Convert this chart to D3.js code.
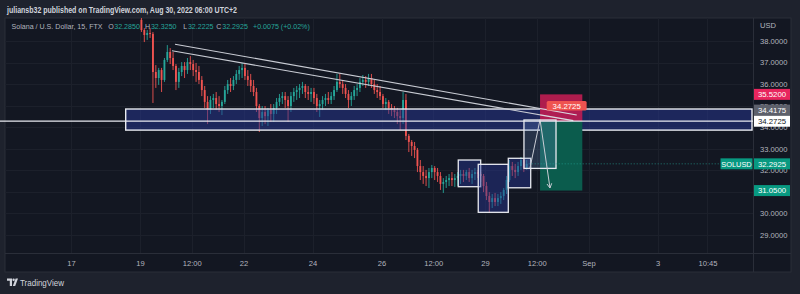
<!DOCTYPE html>
<html><head><meta charset="utf-8">
<script src="https://cdn.jsdelivr.net/npm/d3@7"></script>
<style>
html,body{margin:0;padding:0;background:#1e222d;}
svg{display:block;}
text{font-family:"Liberation Sans",Arial,sans-serif;}
</style></head><body><svg id="c" width="800" height="294"></svg>
<script>
// ---------- DATA ----------
const startTime = Date.UTC(2022, 7, 19, 0, 0); // first 2-hour candle
const candleHours = 2;
const opens = [
38.98,38.51,38.28,38.37,38.33,36.56,36.28,36.65,36.19,37.12,
37.49,37.21,36.84,36.10,36.56,36.84,36.65,37.02,36.93,36.65,
36.56,36.19,35.72,35.17,34.79,35.26,35.35,35.07,34.98,35.17,
35.72,36.00,35.91,36.19,36.47,36.65,36.75,36.37,36.19,35.91,
35.63,34.98,34.42,34.70,34.51,34.79,34.61,34.89,35.17,35.35,
35.44,35.26,34.98,35.44,35.63,35.72,35.82,35.91,35.63,35.54,
35.63,35.35,34.98,35.07,35.26,35.35,35.26,35.44,35.72,36.10,
36.00,35.82,35.54,35.26,35.44,35.72,35.82,36.10,36.19,36.10,
36.28,36.00,35.72,35.63,35.44,35.07,35.17,34.89,34.79,34.70,
34.51,34.42,35.26,33.59,33.31,33.12,32.94,32.19,31.91,31.73,
31.63,31.91,32.10,31.91,31.73,31.36,31.45,31.54,31.63,31.54,
31.63,31.73,31.82,31.73,31.91,31.63,31.82,31.91,31.82,31.73,
31.26,30.80,30.52,30.70,30.52,30.70,30.80,31.08,31.54,32.19,
32.01,31.91,32.19,32.47,32.10];
const highs = [
39.12,38.60,38.51,38.60,38.42,36.88,36.75,36.75,37.21,37.81,
37.67,37.49,36.93,36.75,37.02,37.02,37.21,37.30,37.12,36.98,
36.84,36.37,35.91,35.44,35.44,35.54,35.63,35.44,35.26,35.91,
36.19,36.28,36.37,36.65,36.84,36.98,36.93,36.65,36.47,36.19,
35.82,35.07,34.98,34.98,34.89,35.07,35.07,35.35,35.54,35.63,
35.63,35.44,35.63,35.82,35.91,36.00,36.10,36.00,35.91,35.82,
35.82,35.54,35.26,35.44,35.54,35.63,35.63,35.91,36.47,36.47,
36.19,36.00,35.72,35.63,35.91,36.00,36.28,36.42,36.37,36.47,
36.47,36.19,36.00,35.91,35.54,35.35,35.26,35.07,34.98,34.89,
34.79,35.63,35.54,33.68,33.40,33.31,33.03,32.47,32.19,32.01,
32.10,32.24,32.19,32.10,31.91,31.63,31.73,31.82,31.91,31.82,
31.91,32.01,32.01,32.01,32.10,32.01,32.10,32.01,31.91,31.82,
31.45,30.98,30.89,30.94,30.89,30.98,31.17,31.73,32.47,32.38,
32.29,32.38,32.61,32.56,32.47];
const lows = [
38.42,37.95,38.05,38.14,35.12,35.82,35.96,35.63,36.10,37.02,
36.93,36.65,35.72,35.82,36.37,36.28,36.47,36.65,36.37,36.10,
36.00,35.44,34.89,34.14,34.61,34.89,34.79,34.70,34.56,35.07,
35.54,35.63,35.72,36.00,36.19,36.28,36.19,35.91,35.63,35.44,
34.70,33.77,34.05,34.14,34.05,34.24,34.24,34.61,34.98,35.07,
34.89,34.24,34.70,35.17,35.26,35.35,35.54,35.35,35.26,35.17,
35.07,34.70,34.47,34.79,34.98,35.07,35.07,35.26,35.63,35.82,
35.54,35.35,34.89,34.98,35.26,35.44,35.63,35.91,35.82,35.91,
35.82,35.54,35.35,35.26,34.89,34.79,34.61,34.51,34.42,34.14,
33.86,34.14,33.40,32.84,32.66,32.56,31.91,31.54,31.36,31.26,
31.17,31.63,31.54,31.45,31.08,30.94,31.17,31.26,31.26,31.22,
31.26,31.36,31.45,31.54,31.45,31.36,31.54,31.63,31.45,30.98,
30.61,30.01,30.24,30.33,30.33,30.43,30.61,30.89,31.45,31.73,
31.63,31.73,32.01,31.91,32.01];
const closes = [
38.51,38.28,38.37,38.33,36.56,36.28,36.65,36.19,37.12,37.49,
37.21,36.84,36.10,36.56,36.84,36.65,37.02,36.93,36.65,36.56,
36.19,35.72,35.17,34.79,35.26,35.35,35.07,34.98,35.17,35.72,
36.00,35.91,36.19,36.47,36.65,36.75,36.37,36.19,35.91,35.63,
34.98,34.42,34.70,34.51,34.79,34.61,34.89,35.17,35.35,35.44,
35.26,34.98,35.44,35.63,35.72,35.82,35.91,35.63,35.54,35.63,
35.35,34.98,35.07,35.26,35.35,35.26,35.44,35.72,36.10,36.00,
35.82,35.54,35.26,35.44,35.72,35.82,36.10,36.19,36.10,36.28,
36.00,35.72,35.63,35.44,35.07,35.17,34.89,34.79,34.70,34.51,
34.42,35.26,33.59,33.31,33.12,32.94,32.19,31.91,31.73,31.63,
31.91,32.10,31.91,31.73,31.36,31.45,31.54,31.63,31.54,31.63,
31.73,31.82,31.73,31.91,31.63,31.82,31.91,31.82,31.73,31.26,
30.80,30.52,30.70,30.52,30.70,30.80,31.08,31.54,32.19,32.01,
31.91,32.19,32.47,32.10,32.2925];

const priceTicks = [29,30,31,32,33,34,35,36,37,38];
const timeTickDates = [
  Date.UTC(2022,7,17), Date.UTC(2022,7,19), Date.UTC(2022,7,20,12), Date.UTC(2022,7,22),
  Date.UTC(2022,7,24), Date.UTC(2022,7,26), Date.UTC(2022,7,27,12), Date.UTC(2022,7,29),
  Date.UTC(2022,7,30,12), Date.UTC(2022,8,1), Date.UTC(2022,8,3), Date.UTC(2022,8,4,10,45)];
const timeTickLabels = ["17","19","12:00","22","24","26","12:00","29","12:00","Sep","3","10:45"];

// drawings: [hours after startTime, price]
const trendLines = [
  [[24.35, 37.85], [303.8, 34.56]],
  [[22.26, 37.55], [301.4, 34.30]]
];
const zoneMain = {h0: -9.95, p0: 34.84, p1: 33.86};
const levelLine = 34.2725;
const boxes = [
  {h0: 221.4, h1: 237.0, p0: 32.47, p1: 31.23},
  {h0: 235.3, h1: 256.2, p0: 32.27, p1: 30.04},
  {h0: 256.2, h1: 271.8, p0: 32.55, p1: 31.18}
];
const boxProjection = {h0: 267.1, h1: 289.4, p0: 34.33, p1: 32.08};
const shortPos = {h0: 278.3, h1: 307.7, entry: 34.2725, stop: 35.52, target: 31.05};
const arrowPath = [[271.3, 32.10], [278.3, 34.35], [285.2, 31.17]];

const axisLabels = [
  {price: 35.52, text: "35.5200", bg: "#e8265e", fg: "#ffffff"},
  {price: 34.4175, text: "34.4175", bg: "#5d606b", fg: "#ffffff", shift: -8},
  {price: 34.2725, text: "34.2725", bg: "#ffffff", fg: "#131722"},
  {price: 32.2925, text: "32.2925", bg: "#089981", fg: "#ffffff"},
  {price: 31.05, text: "31.0500", bg: "#089981", fg: "#ffffff"}
];
const headerText = "juliansb32 published on TradingView.com, Aug 30, 2022 06:00 UTC+2";
const symbolText = "Solana / U.S. Dollar, 15, FTX";
const legendKeys = ["O","H","L","C"];
const legendValues = ["32.2850","32.3250","32.2225","32.2925"];
const legendChange = "+0.0075 (+0.02%)";

// ---------- LAYOUT ----------
const P = {left: 5, right: 753, top: 18, bottom: 253, axisRight: 791, paneBottom: 272};
const svg = d3.select("#c");
const H = h => new Date(startTime + h * 3600e3);

const x = d3.scaleUtc().domain([new Date(Date.UTC(2022,7,19)), new Date(Date.UTC(2022,8,3))]).range([140, 657.5]);
const y = d3.scaleLinear().domain([29, 38]).range([234.7, 41]);

svg.append("rect").attr("width", 800).attr("height", 294).attr("fill", "#1e222d");
svg.append("rect").attr("x", P.left).attr("y", P.top).attr("width", P.axisRight - P.left)
  .attr("height", P.paneBottom - P.top).attr("fill", "#131722").attr("stroke", "#2a2e39");
svg.append("line").attr("x1", P.right + 0.5).attr("x2", P.right + 0.5).attr("y1", P.top).attr("y2", P.paneBottom).attr("stroke", "#2a2e39");
svg.append("line").attr("x1", P.left).attr("x2", P.axisRight).attr("y1", P.bottom + 0.5).attr("y2", P.bottom + 0.5).attr("stroke", "#2a2e39");

svg.append("defs").append("clipPath").attr("id", "plot").append("rect")
  .attr("x", P.left).attr("y", P.top).attr("width", P.right - P.left).attr("height", P.bottom - P.top);
const g = svg.append("g").attr("clip-path", "url(#plot)");

// grid
g.selectAll(".hg").data(priceTicks).join("line")
  .attr("x1", P.left).attr("x2", P.right).attr("y1", d => Math.round(y(d)) + 0.5).attr("y2", d => Math.round(y(d)) + 0.5)
  .attr("stroke", "#1c202b");
g.selectAll(".vg").data(timeTickDates).join("line")
  .attr("y1", P.top).attr("y2", P.bottom).attr("x1", d => Math.round(x(new Date(d))) + 0.5).attr("x2", d => Math.round(x(new Date(d))) + 0.5)
  .attr("stroke", "#1c202b");

// candles
const candles = closes.map((c, i) => ({t: H(i * candleHours + candleHours / 2), o: opens[i], h: highs[i], l: lows[i], c}));
const cw = x(H(candleHours)) - x(H(0));
const cg = g.append("g");
cg.selectAll(".wick").data(candles).join("line")
  .attr("x1", d => x(d.t)).attr("x2", d => x(d.t)).attr("y1", d => y(d.h)).attr("y2", d => y(d.l))
  .attr("stroke", d => d.c >= d.o ? "#26a69a" : "#ef5350").attr("stroke-width", 0.9);
cg.selectAll(".body").data(candles).join("rect")
  .attr("x", d => x(d.t) - cw * 0.32).attr("width", cw * 0.64)
  .attr("y", d => y(Math.max(d.o, d.c))).attr("height", d => Math.max(1, Math.abs(y(d.o) - y(d.c))))
  .attr("fill", d => d.c >= d.o ? "#26a69a" : "#ef5350");

// main zone
g.append("rect").attr("x", x(H(zoneMain.h0))).attr("y", y(zoneMain.p0))
  .attr("width", P.right - 1 - x(H(zoneMain.h0))).attr("height", y(zoneMain.p1) - y(zoneMain.p0))
  .attr("fill", "rgba(40,55,150,0.5)").attr("stroke", "#e8eaf0").attr("stroke-width", 1.4);
svg.append("line").attr("x1", 0).attr("x2", P.right).attr("y1", y(levelLine)).attr("y2", y(levelLine))
  .attr("stroke", "#e8eaf0").attr("stroke-width", 1.2);

// trend lines
g.selectAll(".tl").data(trendLines).join("line")
  .attr("x1", d => x(H(d[0][0]))).attr("y1", d => y(d[0][1]))
  .attr("x2", d => x(H(d[1][0]))).attr("y2", d => y(d[1][1]))
  .attr("stroke", "#c9ccd4").attr("stroke-width", 1.1);

// boxes
g.selectAll(".bx").data(boxes).join("rect")
  .attr("x", d => x(H(d.h0))).attr("y", d => y(d.p0))
  .attr("width", d => x(H(d.h1)) - x(H(d.h0))).attr("height", d => y(d.p1) - y(d.p0))
  .attr("fill", "rgba(40,55,150,0.45)").attr("stroke", "#e8eaf0").attr("stroke-width", 1.3);

// short position tool
const sx0 = x(H(shortPos.h0)), sx1 = x(H(shortPos.h1));
g.append("rect").attr("x", sx0).attr("y", y(shortPos.stop)).attr("width", sx1 - sx0)
  .attr("height", y(shortPos.entry) - y(shortPos.stop)).attr("fill", "#c01d52").attr("opacity", 0.9);
g.append("rect").attr("x", sx0).attr("y", y(shortPos.entry)).attr("width", sx1 - sx0)
  .attr("height", y(shortPos.target) - y(shortPos.entry)).attr("fill", "#0b5c4d");

// trend lines visible over red zone
g.selectAll(".tl2").data(trendLines).join("line")
  .attr("x1", d => Math.max(sx0, x(H(d[0][0])))).attr("y1", d => {
    const t0 = x(H(d[0][0])), t1 = x(H(d[1][0]));
    return y(d[0][1]) + (y(d[1][1]) - y(d[0][1])) * (sx0 - t0) / (t1 - t0);
  })
  .attr("x2", d => x(H(d[1][0]))).attr("y2", d => y(d[1][1]))
  .attr("stroke", "#d8dae0").attr("stroke-width", 1.1);

// projection box
g.append("rect").attr("x", x(H(boxProjection.h0))).attr("y", y(boxProjection.p0))
  .attr("width", x(H(boxProjection.h1)) - x(H(boxProjection.h0))).attr("height", y(boxProjection.p1) - y(boxProjection.p0))
  .attr("fill", "rgba(110,150,210,0.22)").attr("stroke", "#e8eaf0").attr("stroke-width", 1.3);

// arrow
const ap = arrowPath.map(d => [x(H(d[0])), y(d[1])]);
g.append("path").attr("d", d3.line()(ap)).attr("fill", "none").attr("stroke", "#c9ccd4").attr("stroke-width", 1);
const last = ap[ap.length - 1], prev = ap[ap.length - 2];
const ang = Math.atan2(last[1] - prev[1], last[0] - prev[0]);
const ah = 5;
g.append("path").attr("d", d3.line()([
  [last[0] - ah * Math.cos(ang - 0.5), last[1] - ah * Math.sin(ang - 0.5)], last,
  [last[0] - ah * Math.cos(ang + 0.5), last[1] - ah * Math.sin(ang + 0.5)]]))
  .attr("fill", "none").attr("stroke", "#c9ccd4").attr("stroke-width", 1);

// red entry label
const lblX0 = x(H(282.9)), lblX1 = x(H(310.7));
g.append("rect").attr("x", lblX0).attr("y", y(shortPos.stop) + 6.5).attr("width", lblX1 - lblX0).attr("height", 9.5)
  .attr("rx", 1.5).attr("fill", "#ef5350");
svg.append("text").attr("x", (lblX0 + lblX1) / 2).attr("y", y(shortPos.stop) + 14.3).attr("text-anchor", "middle")
  .attr("font-size", 7.8).attr("fill", "#ffffff").text(shortPos.entry.toFixed(4));

// last price dotted line
const lastCandle = candles[candles.length - 1];
svg.append("line").attr("x1", x(lastCandle.t) + 2).attr("x2", 720).attr("y1", y(lastCandle.c)).attr("y2", y(lastCandle.c))
  .attr("stroke", "#26a69a").attr("stroke-dasharray", "1,2").attr("opacity", 0.7);

// price axis (tick labels fully hidden by a price label are dropped, as TradingView does)
const shownTicks = priceTicks.filter(t => !axisLabels.some(l => Math.abs(y(t) - (y(l.price) + (l.shift || 0))) < 3));
const ya = svg.append("g").attr("transform", `translate(${P.right},0)`)
  .call(d3.axisRight(y).tickValues(shownTicks).tickFormat(d3.format(".4f")).tickSize(0).tickPadding(7));
ya.select(".domain").remove();
ya.selectAll("text").attr("fill", "#b2b5be").attr("font-size", 7.6).attr("font-family", "Liberation Sans, Arial");
svg.append("text").attr("x", 760).attr("y", 28).attr("font-size", 7.6).attr("fill", "#b2b5be").text("USD");

// time axis
const xa = svg.append("g").attr("transform", `translate(0,${P.bottom})`)
  .call(d3.axisBottom(x).tickValues(timeTickDates.map(d => new Date(d))).tickFormat((d, i) => timeTickLabels[i]).tickSize(0).tickPadding(8));
xa.select(".domain").remove();
xa.selectAll("text").attr("fill", "#b2b5be").attr("font-size", 7.6).attr("font-family", "Liberation Sans, Arial");

// axis price labels
axisLabels.forEach(l => {
  const cy = y(l.price) + (l.shift || 0);
  svg.append("rect").attr("x", P.right + 1).attr("y", cy - 5.5).attr("width", 36).attr("height", 11).attr("fill", l.bg);
  svg.append("text").attr("x", P.right + 19).attr("y", cy + 2.8).attr("text-anchor", "middle")
    .attr("font-size", 7.8).attr("fill", l.fg).text(l.text);
});
// SOLUSD tag
const ly = y(lastCandle.c);
svg.append("rect").attr("x", 720.5).attr("y", ly - 5.5).attr("width", 32).attr("height", 11).attr("fill", "#089981");
svg.append("text").attr("x", 736.5).attr("y", ly + 2.8).attr("text-anchor", "middle").attr("font-size", 7.4).attr("fill", "#ffffff").text("SOLUSD");

// header
svg.append("text").attr("x", 7).attr("y", 12.5).attr("font-size", 8.6).attr("font-weight", 600)
  .attr("fill", "#d1d4dc").attr("textLength", 230).attr("lengthAdjust", "spacingAndGlyphs").text(headerText);

// legend (natural widths, no compression)
const legY = 28.6;
svg.append("text").attr("x", 11.5).attr("y", legY).attr("font-size", 7.1).attr("fill", "#b2b5be").text(symbolText);
const keyX = [108.3, 145, 183.3, 216.3];
legendKeys.forEach((k, i) => {
  svg.append("text").attr("x", keyX[i]).attr("y", legY).attr("font-size", 7.1).attr("fill", "#b2b5be").text(k);
  svg.append("text").attr("x", keyX[i] + (k === "L" ? 4.6 : 5.9)).attr("y", legY).attr("font-size", 7.1).attr("fill", "#26a69a")
    .text(legendValues[i]);
});
svg.append("text").attr("x", 253).attr("y", legY).attr("font-size", 7.1).attr("fill", "#26a69a").text(legendChange);

// footer logo
const logo = svg.append("g").attr("fill", "#d1d4dc");
logo.append("path").attr("d", "M7,278.5 h5 v7.5 h-2.2 v-5.3 h-2.8 z");
logo.append("circle").attr("cx", 13.6).attr("cy", 279.8).attr("r", 1.2);
logo.append("path").attr("d", "M12.8,286 L15.6,278.5 H18 L15.2,286 z");
svg.append("text").attr("x", 20).attr("y", 285.5).attr("font-size", 8.8).attr("fill", "#d1d4dc")
  .attr("textLength", 44).attr("lengthAdjust", "spacingAndGlyphs").text("TradingView");
</script></body></html>
